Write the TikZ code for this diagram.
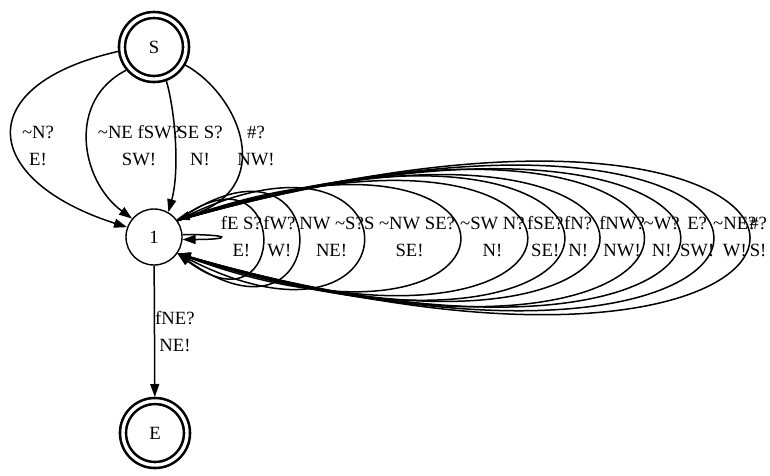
\documentclass[tikz,border=0pt]{standalone}
\usepackage{fontspec}
\setmainfont{Liberation Serif}
\usetikzlibrary{arrows.meta}

\begin{document}
\begin{tikzpicture}[
  x=1pt, y=1pt,
  font=\fontsize{18.67}{27}\selectfont,
  state/.style={circle, draw, line width=1.4pt, minimum size=56pt, inner sep=0pt},
  final/.style={circle, draw, line width=2.6pt, double, double distance=3.4pt,
                minimum size=64pt, inner sep=0pt, outer sep=4pt},
  arr/.style={-{Triangle[length=13pt, width=9pt]}, line width=1.5pt},
  lbl/.style={align=center, inner sep=0pt},
  looplbl/.style={lbl, anchor=west, pos=0.5},
]
  \useasboundingbox (0,0) rectangle (770,-475);

  % ===== states =====
  \node[final] (S) at (154,-47) {S};
  \node[state] (one) at (154,-237) {1};
  \node[final] (E) at (155,-433) {E};

  % ===== S -> 1 =====
  \draw[arr] (S.187) .. controls (-30,-85) and (-20,-180) .. (one.160);
  \draw[arr] (S.220) .. controls (67,-100) and (80,-180) .. (one.140);
  \draw[arr] (S.-70) .. controls (175,-110) and (180,-170) .. (one.60);
  \draw[arr] (S.-30) .. controls (240,-95) and (279,-190) .. (one.38);

  \node[lbl] (lN) at (38,-146) {\textasciitilde N?\\E!};
  \node[lbl] (lNE) at (139,-146) {\textasciitilde NE fSW?\\SW!};
  \node[lbl] (lSE) at (200,-146) {SE S?\\N!};
  \node[lbl] (lH) at (256,-146) {\#?\\NW!};

  % ===== self loops on 1 =====
  \draw[arr] (one.5) to[out=0, in=0, distance=50pt] node[looplbl] (l1) {fE S?\\E!} (one.-5);
  \draw[arr] (one.35) to[out=37, in=-37, distance=142pt] node[looplbl] (l2) {fW?\\W!} (one.-35);
  \draw[arr] (one.35) to[out=35, in=-35, distance=197pt] node[looplbl] (l3) {NW \textasciitilde S?\\NE!} (one.-35);
  \draw[arr] (one.35) to[out=27, in=-27, distance=278pt] node[looplbl] (l4) {S \textasciitilde NW SE?\\SE!} (one.-35);
  \draw[arr] (one.35) to[out=20, in=-20, distance=400pt] node[looplbl] (l5) {\textasciitilde SW N?\\N!} (one.-35);
  \draw[arr] (one.35) to[out=18, in=-18, distance=489pt] node[looplbl] (l6) {fSE?\\SE!} (one.-35);
  \draw[arr] (one.35) to[out=18, in=-18, distance=541pt] node[looplbl] (l7) {fN?\\N!} (one.-35);
  \draw[arr] (one.35) to[out=17, in=-17, distance=587pt] node[looplbl] (l8) {fNW?\\NW!} (one.-35);
  \draw[arr] (one.35) to[out=17, in=-17, distance=649pt] node[looplbl] (l9) {\textasciitilde W?\\N!} (one.-35);
  \draw[arr] (one.35) to[out=16, in=-16, distance=696pt] node[looplbl] (l10) {E?\\SW!} (one.-35);
  \draw[arr] (one.35) to[out=16, in=-16, distance=742pt] node[looplbl] (l11) {\textasciitilde NE?\\W!} (one.-35);
  \draw[arr] (one.35) to[out=16, in=-16, distance=792pt] node[looplbl] (l12) {\#?\\S!} (one.-35);

  % ===== 1 -> E =====
  \draw[arr] (one) -- node[lbl, anchor=west] (lfNE) {fNE?\\NE!} (E);
\end{tikzpicture}
\end{document}
